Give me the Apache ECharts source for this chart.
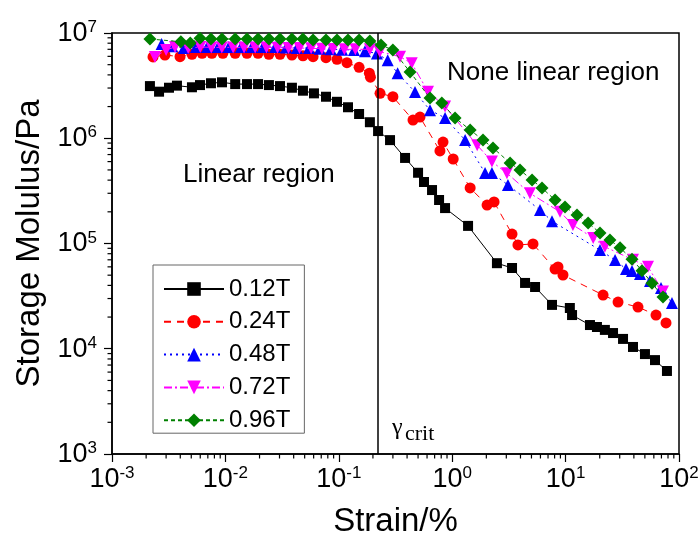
<!DOCTYPE html>
<html>
<head>
<meta charset="utf-8">
<script src="https://cdn.jsdelivr.net/npm/echarts@6/dist/echarts.min.js"></script>
<style>
  html, body { margin: 0; padding: 0; background: #fff; }
  #chart { width: 698px; height: 547px; }
</style>
</head>
<body>
<div id="chart"></div>
<script>
// Amplitude sweep: storage modulus vs. strain for five field strengths
const seriesNames = ['0.12T', '0.24T', '0.48T', '0.72T', '0.96T'];

const strain012 = [0.00216,0.0026,0.00318,0.00374,0.00507,0.00597,0.00746,0.00933,0.0122,0.0155,0.0194,0.0242,0.0303,0.0386,0.0483,0.0604,0.0771,0.0964,0.1205,0.151,0.188,0.222,0.283,0.384,0.50,0.564,0.664,0.766,0.865,1.38,2.48,3.37,4.39,5.38,7.59,10.9,11.4,16.4,18.9,22.2,26.2,32.1,39.3,50.1,61.4,78.3];
const modulus012 = [3.13e6,2.77e6,3.02e6,3.16e6,3.05e6,3.2e6,3.33e6,3.4e6,3.27e6,3.27e6,3.27e6,3.2e6,3.13e6,3.02e6,2.83e6,2.67e6,2.48e6,2.22e6,1.97e6,1.70e6,1.42e6,1.17e6,9.6e5,6.5e5,4.7e5,3.84e5,3.22e5,2.59e5,2.17e5,1.47e5,6.5e4,5.85e4,4.22e4,3.86e4,2.61e4,2.44e4,2.09e4,1.68e4,1.61e4,1.51e4,1.41e4,1.24e4,1.04e4,8.9e3,7.8e3,6.15e3];

const strain024 = [0.0023,0.00293,0.00398,0.00507,0.00623,0.0076,0.0095,0.0122,0.0155,0.0194,0.0242,0.0303,0.0386,0.0483,0.0593,0.0771,0.0964,0.118,0.151,0.186,0.19,0.231,0.30,0.451,0.52,0.78,0.83,1.02,1.44,2.03,2.34,3.37,3.80,5.16,8.07,8.57,9.48,21.4,29.0,43.5,62.7,76.8];
const modulus024 = [5.92e6,6.18e6,5.96e6,6.27e6,6.41e6,6.41e6,6.41e6,6.41e6,6.41e6,6.41e6,6.27e6,6.27e6,6.18e6,6.08e6,5.96e6,5.83e6,5.62e6,5.22e6,4.72e6,4.15e6,3.8e6,2.67e6,2.48e6,1.49e6,1.59e6,7.57e5,9.2e5,6.35e5,3.37e5,2.32e5,2.48e5,1.23e5,9.7e4,9.9e4,5.72e4,5.98e4,5.02e4,3.24e4,2.78e4,2.49e4,2.09e4,1.76e4];

const strain048 = [0.00274,0.0034,0.0043,0.0055,0.0069,0.0086,0.0107,0.0137,0.0171,0.0214,0.0274,0.0343,0.0427,0.0546,0.068,0.085,0.107,0.136,0.17,0.217,0.27,0.33,0.47,0.637,0.865,1.30,1.95,2.24,3.1,5.95,7.59,20.1,27.3,34.1,38.5,45.3,55.5,69.4,86.7];
const modulus048 = [7.85e6,7.5e6,7.2e6,7.35e6,7.35e6,7.35e6,7.35e6,7.35e6,7.35e6,7.35e6,7.35e6,7.3e6,7.2e6,7.2e6,7.1e6,7.0e6,6.95e6,6.9e6,6.7e6,6.4e6,5.5e6,4.15e6,2.75e6,1.85e6,1.56e6,9.6e5,4.68e5,4.68e5,3.6e5,2.08e5,1.63e5,8.67e4,6.97e4,5.72e4,5.48e4,5.13e4,4.4e4,3.78e4,2.72e4];

const strain072 = [0.00239,0.003,0.0036,0.0047,0.006,0.0075,0.0093,0.0117,0.0146,0.0183,0.023,0.0288,0.036,0.045,0.057,0.071,0.089,0.112,0.14,0.188,0.23,0.347,0.44,0.612,0.865,1.66,2.24,3.04,4.85,8.93,11.6,17.5,22.2,39.3,53.3,72.3];
const modulus072 = [5.92e6,6.9e6,7.36e6,7.19e6,7.36e6,7.3e6,7.3e6,7.3e6,7.3e6,7.3e6,7.3e6,7.25e6,7.2e6,7.2e6,7.15e6,7.1e6,7.05e6,7.0e6,7.0e6,7.0e6,6.65e6,5.95e6,5.15e6,2.77e6,2.0e6,8.6e5,6.0e5,4.65e5,3.0e5,2.0e5,1.5e5,1.13e5,9.3e4,7.0e4,6.0e4,3.5e4];

const strain096 = [0.00216,0.00405,0.0049,0.00597,0.00746,0.00933,0.0122,0.0155,0.0194,0.0242,0.0303,0.0386,0.0483,0.0593,0.0771,0.0964,0.1205,0.151,0.188,0.2355,0.30,0.425,0.637,0.81,1.06,1.44,1.87,2.29,3.24,3.96,5.06,6.19,8.07,9.88,12.6,15.8,20.1,24.6,30.2,38.5,47.2,57.8,72.3];
const modulus096 = [8.77e6,8.26e6,8.04e6,8.9e6,8.77e6,8.77e6,8.77e6,8.77e6,8.77e6,8.77e6,8.77e6,8.77e6,8.77e6,8.6e6,8.6e6,8.6e6,8.6e6,8.6e6,8.4e6,7.69e6,6.89e6,4.25e6,2.41e6,2.16e6,1.56e6,1.2e6,9.6e5,8.1e5,5.82e5,4.99e5,4.01e5,3.37e5,2.59e5,2.22e5,1.87e5,1.57e5,1.26e5,1.08e5,9.1e4,7.1e4,5.5e4,4.2e4,3.1e4];

// critical strain separating the linear and non-linear regions
const gammaCrit = 0.222;

// axis ranges (decades)
const xDecades = [-3, -2, -1, 0, 1, 2];
const yDecades = [3, 4, 5, 6, 7];

const SANS = 'Liberation Sans, Arial, sans-serif';
const SERIF = 'Liberation Serif, Times New Roman, serif';

function zip(xs, ys) { return xs.map((x, i) => [x, ys[i]]); }

function powerLabel(value) {
  const e = Math.round(Math.log10(value));
  return '{b|10}{e|' + e + '}';
}
const powerRich = {
  b: { fontSize: 27, fontFamily: SANS, color: '#000', verticalAlign: 'bottom', lineHeight: 28 },
  e: { fontSize: 17, fontFamily: SANS, color: '#000', verticalAlign: 'top', lineHeight: 16 }
};

const styles = [
  { color: '#000000', symbol: 'rect', size: 10, type: 'solid' },
  { color: '#ff0000', symbol: 'circle', size: 11, type: [7, 6] },
  { color: '#0000ff', symbol: 'triangle', size: 12, type: [2, 4] },
  { color: '#ff00ff', symbol: 'path://M0,0L10,0L5,9Z', size: 12, type: [8, 3, 2, 3] },
  { color: '#008000', symbol: 'diamond', size: 13, type: [4, 3] }
];
const strains = [strain012, strain024, strain048, strain072, strain096];
const moduli = [modulus012, modulus024, modulus048, modulus072, modulus096];

const series = seriesNames.map((name, i) => ({
  name: name,
  type: 'line',
  data: zip(strains[i], moduli[i]),
  symbol: styles[i].symbol,
  symbolSize: styles[i].size,
  showAllSymbol: true,
  itemStyle: { color: styles[i].color },
  lineStyle: { color: styles[i].color, width: 1, type: styles[i].type },
  emphasis: { disabled: true },
  animation: false,
  z: 2 + i
}));

series[0].markLine = {
  silent: true,
  symbol: ['none', 'none'],
  label: { show: false },
  lineStyle: { color: '#000', type: 'solid', width: 1.5 },
  data: [{ xAxis: gammaCrit }],
  animation: false
};

const chart = echarts.init(document.getElementById('chart'), null, { renderer: 'canvas' });

chart.setOption({
  backgroundColor: '#fff',
  animation: false,
  grid: {
    left: 112, right: 19, top: 33, bottom: 93,
    show: true, borderColor: '#000', borderWidth: 1.5,
    containLabel: false, outerBoundsMode: 'none'
  },
  legend: {
    data: seriesNames,
    orient: 'vertical',
    left: 153, top: 265,
    padding: [12, 14, 1, 10],
    itemWidth: 60, itemHeight: 17, itemGap: 8.8,
    borderColor: '#666', borderWidth: 1,
    textStyle: { fontSize: 24, fontFamily: SANS, color: '#000' },
    selectedMode: false
  },
  xAxis: {
    type: 'log', logBase: 10,
    min: Math.pow(10, xDecades[0]), max: Math.pow(10, xDecades[xDecades.length - 1]),
    splitNumber: 5,
    name: 'Strain/%', nameLocation: 'middle', nameGap: 51,
    nameTextStyle: { fontSize: 33, fontFamily: SANS, color: '#000' },
    axisLine: { onZero: false, lineStyle: { color: '#000', width: 1.5 } },
    axisTick: { inside: false, length: 8, lineStyle: { color: '#000', width: 1.2 } },
    minorTick: { show: false },
    splitLine: { show: false },
    axisLabel: { margin: 11, formatter: powerLabel, rich: powerRich }
  },
  yAxis: {
    type: 'log', logBase: 10,
    min: Math.pow(10, yDecades[0]), max: Math.pow(10, yDecades[yDecades.length - 1]),
    splitNumber: 4,
    name: 'Storage Molulus/Pa', nameLocation: 'middle', nameGap: 64,
    nameTextStyle: { fontSize: 33, fontFamily: SANS, color: '#000' },
    axisLine: { onZero: false, lineStyle: { color: '#000', width: 1.5 } },
    axisTick: { inside: false, length: 8, lineStyle: { color: '#000', width: 1.2 } },
    minorTick: { show: false },
    splitLine: { show: false },
    axisLabel: { margin: 15, formatter: powerLabel, rich: powerRich }
  },
  series: series
});

// minor ticks at 2..9 within each decade, placed through the axis scales
const graphics = [];
const gridRect = { left: 112, bottom: 547 - 93 };
for (let d = xDecades[0]; d < xDecades[xDecades.length - 1]; d++) {
  for (let k = 2; k <= 9; k++) {
    const px = chart.convertToPixel({ xAxisIndex: 0 }, k * Math.pow(10, d));
    graphics.push({ type: 'line', silent: true, z: 10,
      shape: { x1: px, y1: gridRect.bottom, x2: px, y2: gridRect.bottom + 4.5 },
      style: { stroke: '#000', lineWidth: 1.2 } });
  }
}
for (let d = yDecades[0]; d < yDecades[yDecades.length - 1]; d++) {
  for (let k = 2; k <= 9; k++) {
    const py = chart.convertToPixel({ yAxisIndex: 0 }, k * Math.pow(10, d));
    graphics.push({ type: 'line', silent: true, z: 10,
      shape: { x1: gridRect.left, y1: py, x2: gridRect.left - 4.5, y2: py },
      style: { stroke: '#000', lineWidth: 1.2 } });
  }
}

// region annotations
graphics.push({ type: 'text', left: 183, top: 162, z: 20, silent: true,
  style: { text: 'Linear region', fontSize: 26, fontFamily: SANS, fill: '#000' } });
graphics.push({ type: 'text', left: 447, top: 60, z: 20, silent: true,
  style: { text: 'None linear region', fontSize: 26, fontFamily: SANS, fill: '#000' } });
// critical strain label: gamma with subscript "crit"
graphics.push({ type: 'text', left: 392, top: 416, z: 20, silent: true,
  style: { text: 'γ', fontSize: 24, fontFamily: SERIF, fill: '#000' } });
graphics.push({ type: 'text', left: 405, top: 423, z: 20, silent: true,
  style: { text: 'crit', fontSize: 22, fontFamily: SERIF, fill: '#000' } });

chart.setOption({ graphic: graphics });
</script>
</body>
</html>
